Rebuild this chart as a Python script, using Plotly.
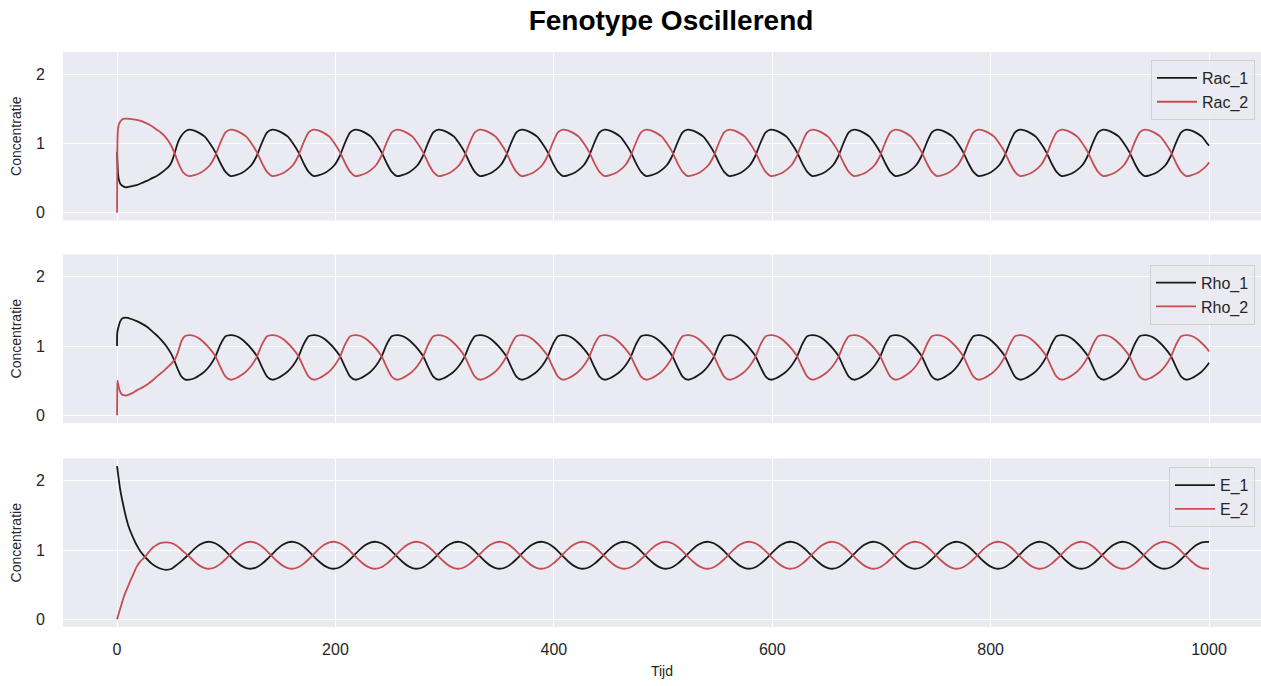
import numpy as np
import plotly.graph_objects as go

# ---------------------------------------------------------------
# Time axis: irregular start-up samples, then a regular grid over
# the oscillating regime (16 samples per cycle), then the end point.
# ---------------------------------------------------------------
T_START = 66.05
T_STEP = 4.75625
N_GRID = 197
T_END = 1000.0

# ---------------- Rac ----------------
RAC1_HEAD_T = [0, 0.15, 0.3, 0.7, 1.2, 2, 3, 4.5, 7.3, 10, 14, 18, 22.5, 27.2,
               32, 36.3, 40, 44, 47.5, 50.1, 53.1, 56.1, 59.2, 62.5]
RAC1_HEAD = [0.88, 0.80, 0.74, 0.62, 0.52, 0.46, 0.42, 0.395, 0.37, 0.372, 0.385, 0.40, 0.43, 0.46,
             0.50, 0.53, 0.57, 0.62, 0.67, 0.74, 0.88, 1.03, 1.12, 1.175]
RAC1 = [
    1.20, 1.185, 1.15, 1.10, 1.00, 0.88, 0.72, 0.59, 0.53, 0.543, 0.57, 0.62, 0.69, 0.82, 1.01, 1.16,
    1.20, 1.185, 1.15, 1.10, 1.00, 0.88, 0.72, 0.59, 0.53, 0.543, 0.57, 0.62, 0.69, 0.82, 1.01, 1.16,
    1.20, 1.185, 1.15, 1.10, 1.00, 0.88, 0.72, 0.59, 0.53, 0.543, 0.57, 0.62, 0.69, 0.82, 1.01, 1.16,
    1.20, 1.185, 1.15, 1.10, 1.00, 0.88, 0.72, 0.59, 0.53, 0.543, 0.57, 0.62, 0.69, 0.82, 1.01, 1.16,
    1.20, 1.185, 1.15, 1.10, 1.00, 0.88, 0.72, 0.59, 0.53, 0.543, 0.57, 0.62, 0.69, 0.82, 1.01, 1.16,
    1.20, 1.185, 1.15, 1.10, 1.00, 0.88, 0.72, 0.59, 0.53, 0.543, 0.57, 0.62, 0.69, 0.82, 1.01, 1.16,
    1.20, 1.185, 1.15, 1.10, 1.00, 0.88, 0.72, 0.59, 0.53, 0.543, 0.57, 0.62, 0.69, 0.82, 1.01, 1.16,
    1.20, 1.185, 1.15, 1.10, 1.00, 0.88, 0.72, 0.59, 0.53, 0.543, 0.57, 0.62, 0.69, 0.82, 1.01, 1.16,
    1.20, 1.185, 1.15, 1.10, 1.00, 0.88, 0.72, 0.59, 0.53, 0.543, 0.57, 0.62, 0.69, 0.82, 1.01, 1.16,
    1.20, 1.185, 1.15, 1.10, 1.00, 0.88, 0.72, 0.59, 0.53, 0.543, 0.57, 0.62, 0.69, 0.82, 1.01, 1.16,
    1.20, 1.185, 1.15, 1.10, 1.00, 0.88, 0.72, 0.59, 0.53, 0.543, 0.57, 0.62, 0.69, 0.82, 1.01, 1.16,
    1.20, 1.185, 1.15, 1.10, 1.00, 0.88, 0.72, 0.59, 0.53, 0.543, 0.57, 0.62, 0.69, 0.82, 1.01, 1.16,
    1.20, 1.185, 1.15, 1.10, 1.00, 0.97,
]

RAC2_HEAD_T = [0, 0.1, 0.2, 0.3, 0.6, 1.2, 2.7, 5, 7.3, 12, 18, 23, 27.2, 32, 36.3,
               40, 44, 48.5, 52.2, 56.1, 60.2, 63]
RAC2_HEAD = [0.0, 0.35, 0.7, 0.95, 1.15, 1.25, 1.31, 1.35, 1.36, 1.355, 1.34, 1.32, 1.29, 1.25, 1.20,
             1.16, 1.10, 1.00, 0.88, 0.72, 0.59, 0.55]
RAC2 = [
    0.53, 0.543, 0.57, 0.62, 0.69, 0.82, 1.01, 1.16, 1.20, 1.185, 1.15, 1.10, 1.00, 0.88, 0.72, 0.59,
    0.53, 0.543, 0.57, 0.62, 0.69, 0.82, 1.01, 1.16, 1.20, 1.185, 1.15, 1.10, 1.00, 0.88, 0.72, 0.59,
    0.53, 0.543, 0.57, 0.62, 0.69, 0.82, 1.01, 1.16, 1.20, 1.185, 1.15, 1.10, 1.00, 0.88, 0.72, 0.59,
    0.53, 0.543, 0.57, 0.62, 0.69, 0.82, 1.01, 1.16, 1.20, 1.185, 1.15, 1.10, 1.00, 0.88, 0.72, 0.59,
    0.53, 0.543, 0.57, 0.62, 0.69, 0.82, 1.01, 1.16, 1.20, 1.185, 1.15, 1.10, 1.00, 0.88, 0.72, 0.59,
    0.53, 0.543, 0.57, 0.62, 0.69, 0.82, 1.01, 1.16, 1.20, 1.185, 1.15, 1.10, 1.00, 0.88, 0.72, 0.59,
    0.53, 0.543, 0.57, 0.62, 0.69, 0.82, 1.01, 1.16, 1.20, 1.185, 1.15, 1.10, 1.00, 0.88, 0.72, 0.59,
    0.53, 0.543, 0.57, 0.62, 0.69, 0.82, 1.01, 1.16, 1.20, 1.185, 1.15, 1.10, 1.00, 0.88, 0.72, 0.59,
    0.53, 0.543, 0.57, 0.62, 0.69, 0.82, 1.01, 1.16, 1.20, 1.185, 1.15, 1.10, 1.00, 0.88, 0.72, 0.59,
    0.53, 0.543, 0.57, 0.62, 0.69, 0.82, 1.01, 1.16, 1.20, 1.185, 1.15, 1.10, 1.00, 0.88, 0.72, 0.59,
    0.53, 0.543, 0.57, 0.62, 0.69, 0.82, 1.01, 1.16, 1.20, 1.185, 1.15, 1.10, 1.00, 0.88, 0.72, 0.59,
    0.53, 0.543, 0.57, 0.62, 0.69, 0.82, 1.01, 1.16, 1.20, 1.185, 1.15, 1.10, 1.00, 0.88, 0.72, 0.59,
    0.53, 0.543, 0.57, 0.62, 0.69, 0.73,
]

# ---------------- Rho ----------------
RHO1_HEAD_T = [0, 0.2, 1.5, 3, 5, 8, 13, 18, 23, 28, 33, 38, 42, 45.5, 49.5, 52.5, 55.5, 59, 62]
RHO1_HEAD = [1.00, 1.19, 1.29, 1.36, 1.40, 1.41, 1.39, 1.36, 1.32, 1.27, 1.20, 1.13, 1.06, 0.99,
             0.89, 0.79, 0.67, 0.56, 0.52]
RHO1 = [
    0.514, 0.535, 0.578, 0.635, 0.72, 0.84, 1.02, 1.14, 1.157, 1.145, 1.105, 1.04, 0.96, 0.86, 0.70, 0.56,
    0.514, 0.535, 0.578, 0.635, 0.72, 0.84, 1.02, 1.14, 1.157, 1.145, 1.105, 1.04, 0.96, 0.86, 0.70, 0.56,
    0.514, 0.535, 0.578, 0.635, 0.72, 0.84, 1.02, 1.14, 1.157, 1.145, 1.105, 1.04, 0.96, 0.86, 0.70, 0.56,
    0.514, 0.535, 0.578, 0.635, 0.72, 0.84, 1.02, 1.14, 1.157, 1.145, 1.105, 1.04, 0.96, 0.86, 0.70, 0.56,
    0.514, 0.535, 0.578, 0.635, 0.72, 0.84, 1.02, 1.14, 1.157, 1.145, 1.105, 1.04, 0.96, 0.86, 0.70, 0.56,
    0.514, 0.535, 0.578, 0.635, 0.72, 0.84, 1.02, 1.14, 1.157, 1.145, 1.105, 1.04, 0.96, 0.86, 0.70, 0.56,
    0.514, 0.535, 0.578, 0.635, 0.72, 0.84, 1.02, 1.14, 1.157, 1.145, 1.105, 1.04, 0.96, 0.86, 0.70, 0.56,
    0.514, 0.535, 0.578, 0.635, 0.72, 0.84, 1.02, 1.14, 1.157, 1.145, 1.105, 1.04, 0.96, 0.86, 0.70, 0.56,
    0.514, 0.535, 0.578, 0.635, 0.72, 0.84, 1.02, 1.14, 1.157, 1.145, 1.105, 1.04, 0.96, 0.86, 0.70, 0.56,
    0.514, 0.535, 0.578, 0.635, 0.72, 0.84, 1.02, 1.14, 1.157, 1.145, 1.105, 1.04, 0.96, 0.86, 0.70, 0.56,
    0.514, 0.535, 0.578, 0.635, 0.72, 0.84, 1.02, 1.14, 1.157, 1.145, 1.105, 1.04, 0.96, 0.86, 0.70, 0.56,
    0.514, 0.535, 0.578, 0.635, 0.72, 0.84, 1.02, 1.14, 1.157, 1.145, 1.105, 1.04, 0.96, 0.86, 0.70, 0.56,
    0.514, 0.535, 0.578, 0.635, 0.72, 0.76,
]

RHO2_HEAD_T = [0, 0.15, 0.4, 1, 2, 3, 4.5, 6, 8, 11, 14, 18, 23, 28, 33, 38, 42, 46, 50, 53, 56, 59, 62]
RHO2_HEAD = [0.0, 0.30, 0.50, 0.45, 0.38, 0.335, 0.30, 0.29, 0.285, 0.30, 0.32, 0.36, 0.40, 0.45,
             0.51, 0.58, 0.63, 0.69, 0.75, 0.81, 0.92, 1.07, 1.14]
RHO2 = [
    1.157, 1.145, 1.105, 1.04, 0.96, 0.86, 0.70, 0.56, 0.514, 0.535, 0.578, 0.635, 0.72, 0.84, 1.02, 1.14,
    1.157, 1.145, 1.105, 1.04, 0.96, 0.86, 0.70, 0.56, 0.514, 0.535, 0.578, 0.635, 0.72, 0.84, 1.02, 1.14,
    1.157, 1.145, 1.105, 1.04, 0.96, 0.86, 0.70, 0.56, 0.514, 0.535, 0.578, 0.635, 0.72, 0.84, 1.02, 1.14,
    1.157, 1.145, 1.105, 1.04, 0.96, 0.86, 0.70, 0.56, 0.514, 0.535, 0.578, 0.635, 0.72, 0.84, 1.02, 1.14,
    1.157, 1.145, 1.105, 1.04, 0.96, 0.86, 0.70, 0.56, 0.514, 0.535, 0.578, 0.635, 0.72, 0.84, 1.02, 1.14,
    1.157, 1.145, 1.105, 1.04, 0.96, 0.86, 0.70, 0.56, 0.514, 0.535, 0.578, 0.635, 0.72, 0.84, 1.02, 1.14,
    1.157, 1.145, 1.105, 1.04, 0.96, 0.86, 0.70, 0.56, 0.514, 0.535, 0.578, 0.635, 0.72, 0.84, 1.02, 1.14,
    1.157, 1.145, 1.105, 1.04, 0.96, 0.86, 0.70, 0.56, 0.514, 0.535, 0.578, 0.635, 0.72, 0.84, 1.02, 1.14,
    1.157, 1.145, 1.105, 1.04, 0.96, 0.86, 0.70, 0.56, 0.514, 0.535, 0.578, 0.635, 0.72, 0.84, 1.02, 1.14,
    1.157, 1.145, 1.105, 1.04, 0.96, 0.86, 0.70, 0.56, 0.514, 0.535, 0.578, 0.635, 0.72, 0.84, 1.02, 1.14,
    1.157, 1.145, 1.105, 1.04, 0.96, 0.86, 0.70, 0.56, 0.514, 0.535, 0.578, 0.635, 0.72, 0.84, 1.02, 1.14,
    1.157, 1.145, 1.105, 1.04, 0.96, 0.86, 0.70, 0.56, 0.514, 0.535, 0.578, 0.635, 0.72, 0.84, 1.02, 1.14,
    1.157, 1.145, 1.105, 1.04, 0.96, 0.92,
]

# ---------------- E ----------------
E1_HEAD_T = [0, 1.5, 3, 5, 7.5, 10, 12.5, 15, 18, 21, 24.5, 28, 32, 36, 40, 45, 50, 55, 60]
E1_HEAD = [2.21, 2.03, 1.86, 1.70, 1.52, 1.37, 1.26, 1.17, 1.07, 0.99, 0.92, 0.86, 0.80, 0.76,
           0.73, 0.715, 0.73, 0.79, 0.855]
E1 = [
    0.943, 1.016, 1.075, 1.111, 1.119, 1.098, 1.050, 0.983, 0.907, 0.834, 0.775, 0.739, 0.731, 0.752, 0.800, 0.867,
    0.943, 1.016, 1.075, 1.111, 1.119, 1.098, 1.050, 0.983, 0.907, 0.834, 0.775, 0.739, 0.731, 0.752, 0.800, 0.867,
    0.943, 1.016, 1.075, 1.111, 1.119, 1.098, 1.050, 0.983, 0.907, 0.834, 0.775, 0.739, 0.731, 0.752, 0.800, 0.867,
    0.943, 1.016, 1.075, 1.111, 1.119, 1.098, 1.050, 0.983, 0.907, 0.834, 0.775, 0.739, 0.731, 0.752, 0.800, 0.867,
    0.943, 1.016, 1.075, 1.111, 1.119, 1.098, 1.050, 0.983, 0.907, 0.834, 0.775, 0.739, 0.731, 0.752, 0.800, 0.867,
    0.943, 1.016, 1.075, 1.111, 1.119, 1.098, 1.050, 0.983, 0.907, 0.834, 0.775, 0.739, 0.731, 0.752, 0.800, 0.867,
    0.943, 1.016, 1.075, 1.111, 1.119, 1.098, 1.050, 0.983, 0.907, 0.834, 0.775, 0.739, 0.731, 0.752, 0.800, 0.867,
    0.943, 1.016, 1.075, 1.111, 1.119, 1.098, 1.050, 0.983, 0.907, 0.834, 0.775, 0.739, 0.731, 0.752, 0.800, 0.867,
    0.943, 1.016, 1.075, 1.111, 1.119, 1.098, 1.050, 0.983, 0.907, 0.834, 0.775, 0.739, 0.731, 0.752, 0.800, 0.867,
    0.943, 1.016, 1.075, 1.111, 1.119, 1.098, 1.050, 0.983, 0.907, 0.834, 0.775, 0.739, 0.731, 0.752, 0.800, 0.867,
    0.943, 1.016, 1.075, 1.111, 1.119, 1.098, 1.050, 0.983, 0.907, 0.834, 0.775, 0.739, 0.731, 0.752, 0.800, 0.867,
    0.943, 1.016, 1.075, 1.111, 1.119, 1.098, 1.050, 0.983, 0.907, 0.834, 0.775, 0.739, 0.731, 0.752, 0.800, 0.867,
    0.943, 1.016, 1.075, 1.111, 1.119, 1.117,
]

E2_HEAD_T = [0, 2, 4, 6, 8, 10, 12, 15, 18, 21, 25.6, 29, 33, 36, 39.4, 45.5, 50, 55, 60]
E2_HEAD = [0.0, 0.11, 0.21, 0.315, 0.40, 0.475, 0.55, 0.655, 0.76, 0.83, 0.90, 0.97, 1.04, 1.07,
           1.10, 1.11, 1.10, 1.06, 0.99]
E2 = [
    0.907, 0.834, 0.775, 0.739, 0.731, 0.752, 0.800, 0.867, 0.943, 1.016, 1.075, 1.111, 1.119, 1.098, 1.050, 0.983,
    0.907, 0.834, 0.775, 0.739, 0.731, 0.752, 0.800, 0.867, 0.943, 1.016, 1.075, 1.111, 1.119, 1.098, 1.050, 0.983,
    0.907, 0.834, 0.775, 0.739, 0.731, 0.752, 0.800, 0.867, 0.943, 1.016, 1.075, 1.111, 1.119, 1.098, 1.050, 0.983,
    0.907, 0.834, 0.775, 0.739, 0.731, 0.752, 0.800, 0.867, 0.943, 1.016, 1.075, 1.111, 1.119, 1.098, 1.050, 0.983,
    0.907, 0.834, 0.775, 0.739, 0.731, 0.752, 0.800, 0.867, 0.943, 1.016, 1.075, 1.111, 1.119, 1.098, 1.050, 0.983,
    0.907, 0.834, 0.775, 0.739, 0.731, 0.752, 0.800, 0.867, 0.943, 1.016, 1.075, 1.111, 1.119, 1.098, 1.050, 0.983,
    0.907, 0.834, 0.775, 0.739, 0.731, 0.752, 0.800, 0.867, 0.943, 1.016, 1.075, 1.111, 1.119, 1.098, 1.050, 0.983,
    0.907, 0.834, 0.775, 0.739, 0.731, 0.752, 0.800, 0.867, 0.943, 1.016, 1.075, 1.111, 1.119, 1.098, 1.050, 0.983,
    0.907, 0.834, 0.775, 0.739, 0.731, 0.752, 0.800, 0.867, 0.943, 1.016, 1.075, 1.111, 1.119, 1.098, 1.050, 0.983,
    0.907, 0.834, 0.775, 0.739, 0.731, 0.752, 0.800, 0.867, 0.943, 1.016, 1.075, 1.111, 1.119, 1.098, 1.050, 0.983,
    0.907, 0.834, 0.775, 0.739, 0.731, 0.752, 0.800, 0.867, 0.943, 1.016, 1.075, 1.111, 1.119, 1.098, 1.050, 0.983,
    0.907, 0.834, 0.775, 0.739, 0.731, 0.752, 0.800, 0.867, 0.943, 1.016, 1.075, 1.111, 1.119, 1.098, 1.050, 0.983,
    0.907, 0.834, 0.775, 0.739, 0.731, 0.733,
]

X_TICKS = [0, 200, 400, 600, 800, 1000]
Y_TICKS = [0, 1, 2]

# ---------------------------------------------------------------
GRID_T = list(T_START + T_STEP * np.arange(N_GRID)) + [T_END]

for name, head_t, head_v, body in [
    ("Rac_1", RAC1_HEAD_T, RAC1_HEAD, RAC1), ("Rac_2", RAC2_HEAD_T, RAC2_HEAD, RAC2),
    ("Rho_1", RHO1_HEAD_T, RHO1_HEAD, RHO1), ("Rho_2", RHO2_HEAD_T, RHO2_HEAD, RHO2),
    ("E_1", E1_HEAD_T, E1_HEAD, E1), ("E_2", E2_HEAD_T, E2_HEAD, E2),
]:
    assert len(head_t) == len(head_v), name
    assert len(body) == len(GRID_T), (name, len(body))

BLACK = "#1a1a1a"
RED = "#c44e52"
BG = "#eaeaf2"
TXT = "#262626"
FONT = "Liberation Sans, Arial, sans-serif"

panels = [
    (("Rac_1", RAC1_HEAD_T, RAC1_HEAD, RAC1), ("Rac_2", RAC2_HEAD_T, RAC2_HEAD, RAC2)),
    (("Rho_1", RHO1_HEAD_T, RHO1_HEAD, RHO1), ("Rho_2", RHO2_HEAD_T, RHO2_HEAD, RHO2)),
    (("E_1", E1_HEAD_T, E1_HEAD, E1), ("E_2", E2_HEAD_T, E2_HEAD, E2)),
]

fig = go.Figure()
legend_ids = ["legend", "legend2", "legend3"]
for i, pair in enumerate(panels):
    suffix = "" if i == 0 else str(i + 1)
    for (name, head_t, head_v, body), color in zip(pair, [BLACK, RED]):
        fig.add_trace(go.Scatter(
            x=list(head_t) + GRID_T, y=list(head_v) + list(body),
            mode="lines", name=name,
            line=dict(color=color, width=1.8, shape="spline", smoothing=0.7),
            xaxis="x" + suffix, yaxis="y" + suffix,
            legend=legend_ids[i],
        ))

# plot-area rows (paper fractions), top to bottom
domains = [[0.707, 1.0], [0.3548, 0.6478], [0.0, 0.2930]]
legend_tops = [0.986, 0.630, 0.278]

axis_common = dict(
    showgrid=True, gridcolor="white", gridwidth=1.3, zeroline=False,
    showline=False, tickfont=dict(size=16, color=TXT, family=FONT),
)

layout = dict(
    width=1261, height=686,
    margin=dict(l=63, r=0, t=52, b=59),
    paper_bgcolor="white", plot_bgcolor=BG,
    font=dict(family=FONT, color=TXT),
    title=dict(text="<b>Fenotype Oscillerend</b>", x=671 / 1261, xref="container",
               xanchor="center", y=1 - 20 / 686, yref="container", yanchor="middle",
               font=dict(size=28, color="black", family=FONT)),
    showlegend=True,
)

for i in range(3):
    suffix = "" if i == 0 else str(i + 1)
    xa = dict(axis_common, range=[-49.5, 1047.6], tickvals=X_TICKS,
              anchor="y" + suffix, domain=[0, 1],
              ticks="outside", ticklen=8, tickcolor="rgba(0,0,0,0)",
              showticklabels=(i == 2))
    if i > 0:
        xa["matches"] = "x"
    if i == 2:
        xa["title"] = dict(text="Tijd", font=dict(size=14, color=TXT, family=FONT), standoff=8)
    ya = dict(axis_common, range=[-0.1105, 2.3205], tickvals=Y_TICKS, domain=domains[i],
              anchor="x" + suffix, ticks="outside", ticklen=14, tickcolor="rgba(0,0,0,0)",
              title=dict(text="Concentratie", font=dict(size=14, color=TXT, family=FONT),
                         standoff=10))
    layout["xaxis" + suffix] = xa
    layout["yaxis" + suffix] = ya
    layout[legend_ids[i]] = dict(
        x=0.995, xanchor="right", y=legend_tops[i], yanchor="top",
        bgcolor="rgba(234,234,242,0.8)", bordercolor="#cfcfd6", borderwidth=1,
        font=dict(size=16, color=TXT, family=FONT), itemwidth=40,
    )

fig.update_layout(**layout)
fig.write_html("out.html")
